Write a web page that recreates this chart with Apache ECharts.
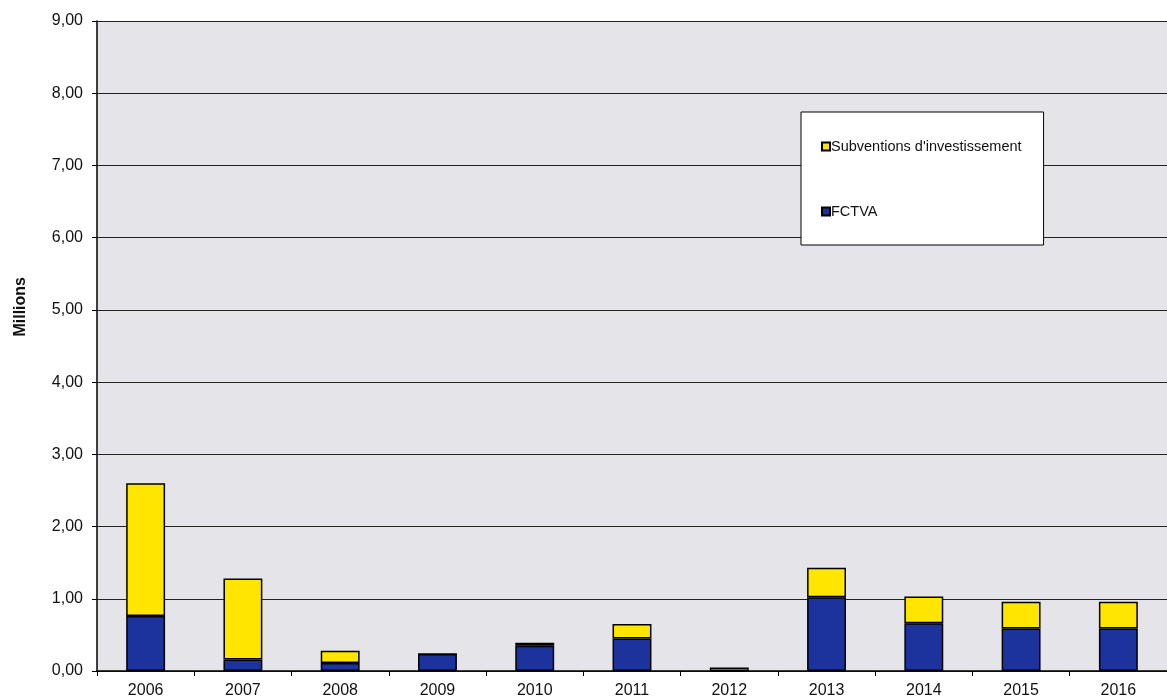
<!DOCTYPE html>
<html>
<head>
<meta charset="utf-8">
<script src="https://cdn.jsdelivr.net/npm/echarts@6/dist/echarts.min.js"></script>
<style>html,body{margin:0;padding:0;background:#fff;}#c{width:1167px;height:699px;}</style>
</head>
<body>
<div id="c"></div>
<script>
const categories = ['2006','2007','2008','2009','2010','2011','2012','2013','2014','2015','2016'];
const fctva = [0.76, 0.16, 0.11, 0.235, 0.35, 0.45, 0.00, 1.02, 0.66, 0.59, 0.59];
const subventions = [1.84, 1.12, 0.17, 0.00, 0.04, 0.20, 0.05, 0.41, 0.37, 0.37, 0.37];
const yTicks = { min: 0, max: 9, interval: 1 };

const chart = echarts.init(document.getElementById('c'), null, {renderer: 'canvas'});
const font = '"Liberation Sans", Arial, sans-serif';
chart.setOption({
  animation: false,
  backgroundColor: '#ffffff',
  textStyle: { fontFamily: font },
  grid: { left: 97, top: 21, bottom: 27, right: -10, show: true, backgroundColor: '#e5e4e9', borderWidth: 0 },
  legend: {
    orient: 'vertical',
    left: 801, top: 112,
    data: ['Subventions d\'investissement', 'FCTVA'],
    backgroundColor: '#ffffff',
    borderColor: '#000000', borderWidth: 1,
    padding: [27, 22, 26, 20],
    itemGap: 50,
    itemWidth: 8, itemHeight: 8,
    icon: 'rect',
    textStyle: { fontFamily: font, fontSize: 14.5, color: '#111', padding: [0, 0, 0, -4] }
  },
  graphic: [{
    type: 'text', left: 13, top: 277, rotation: Math.PI / 2,
    style: { text: 'Millions', font: 'bold 16px ' + font, fill: '#111' }
  }],
  xAxis: {
    type: 'category', data: categories,
    axisLine: { lineStyle: { color: '#000', width: 1.5 } },
    axisTick: { show: true, length: 5, lineStyle: { color: '#000' } },
    axisLabel: { fontSize: 16, color: '#111', margin: 12, fontFamily: font },
    splitLine: { show: false }
  },
  yAxis: {
    type: 'value', min: yTicks.min, max: yTicks.max, interval: yTicks.interval,
    axisLine: { show: true, lineStyle: { color: '#000', width: 1.5 } },
    axisTick: { show: true, length: 5, lineStyle: { color: '#000' } },
    axisLabel: { fontSize: 16, color: '#111', margin: 14, fontFamily: font,
      formatter: v => v.toFixed(2).replace('.', ',') },
    splitLine: { show: true, lineStyle: { color: '#222', width: 1.2 } }
  },
  series: [
    { name: 'FCTVA', type: 'bar', stack: 's', data: fctva, barWidth: '40%',
      itemStyle: { color: '#1c339e', borderColor: '#000', borderWidth: 1.5 } },
    { name: 'Subventions d\'investissement', type: 'bar', stack: 's', data: subventions, barWidth: '40%',
      itemStyle: { color: '#ffe500', borderColor: '#000', borderWidth: 1.5 } }
  ]
});
</script>
</body>
</html>
